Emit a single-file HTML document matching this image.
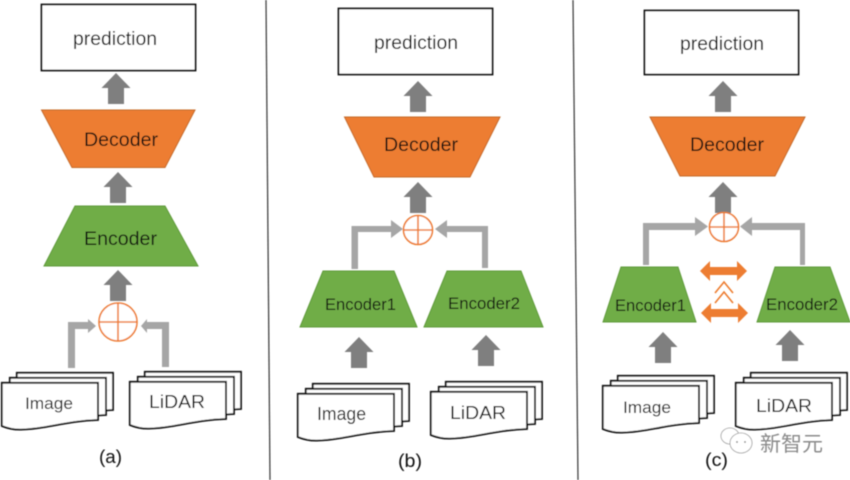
<!DOCTYPE html>
<html>
<head>
<meta charset="utf-8">
<style>
html,body{margin:0;padding:0;background:#fff;width:850px;height:480px;overflow:hidden}
svg{display:block}
text{font-family:"Liberation Sans",sans-serif;fill:#111}
</style>
</head>
<body>
<svg width="850" height="480" viewBox="0 0 850 480" xmlns="http://www.w3.org/2000/svg">
<defs>
<filter id="b" x="-5%" y="-5%" width="110%" height="110%"><feGaussianBlur stdDeviation="0.5"/></filter>
<path id="up" d="M0 0 L14.5 15 H8 V31 H-8 V15 H-14.5 Z" fill="#7f7f7f"/>
<path id="doc" d="M0.8 0.8 H97 V38 C65 39 45 47 22 47.500 C15 48 8 47 0.8 44 Z" fill="#fff" stroke="#111" stroke-width="1.8"/>
<g id="stack">
<use href="#doc" x="15" y="-10"/>
<use href="#doc" x="8" y="-5"/>
<use href="#doc"/>
</g>
</defs>
<rect width="850" height="480" fill="#fff"/>
<g filter="url(#b)">
<!-- dividers -->
<line x1="266" y1="0" x2="270" y2="480" stroke="#444" stroke-width="1.3"/>
<line x1="573" y1="0" x2="578" y2="480" stroke="#444" stroke-width="1.3"/>

<!-- Panel a -->
<rect x="41.500" y="4.500" width="154" height="66" fill="#fff" stroke="#111" stroke-width="1.8"/>
<use href="#up" x="116" y="73"/>
<path d="M41.500 110 H195 L165 167.500 H72 Z" fill="#ed7d31" stroke="#c56a2c"/>
<use href="#up" x="118" y="172"/>
<path d="M75 206 H165 L198 266 H44 Z" fill="#70ad47" stroke="#5f9a3a"/>
<use href="#up" x="118" y="270"/>
<circle cx="118" cy="322" r="19" fill="#fff" stroke="#ed7d31" stroke-width="1.6"/>
<path d="M99 322 H137 M118 303 V341" stroke="#ed7d31" stroke-width="1.6" fill="none"/>
<path d="M68 368 V322 H88 V319 L96 326 L88 333 V329 H75 V368 Z" fill="#a6a6a6"/>
<path d="M162 367 V329 H147 V333 L141 326 L147 319 V322 H169 V367 Z" fill="#a6a6a6"/>
<use href="#stack" x="1" y="382"/>
<use href="#stack" x="129" y="381"/>

<!-- Panel b -->
<rect x="338.500" y="8.500" width="154" height="66" fill="#fff" stroke="#111" stroke-width="1.8"/>
<use href="#up" x="418" y="81"/>
<path d="M344.500 117 H500 L470 177 H374 Z" fill="#ed7d31" stroke="#c56a2c"/>
<use href="#up" x="418" y="182"/>
<circle cx="418" cy="230" r="14.500" fill="#fff" stroke="#ed7d31" stroke-width="1.6"/>
<path d="M403.500 230 H432.500 M418 215.500 V244.500" stroke="#ed7d31" stroke-width="1.6" fill="none"/>
<path d="M351.500 269 V226 H391 V220 L403 229 L391 238 V232 H358 V269 Z" fill="#a6a6a6"/>
<path d="M482 268 V232 H447 V238 L435 229 L447 220 V226 H488 V268 Z" fill="#a6a6a6"/>
<path d="M323 271 H394 L417 327 H300 Z" fill="#70ad47" stroke="#5f9a3a"/>
<path d="M447 271 H521 L543 327 H424 Z" fill="#70ad47" stroke="#5f9a3a"/>
<use href="#up" x="359" y="337"/>
<use href="#up" x="486" y="335"/>
<use href="#stack" x="297" y="393"/>
<use href="#stack" x="430" y="391"/>

<!-- Panel c -->
<rect x="644.500" y="10.500" width="154" height="64" fill="#fff" stroke="#111" stroke-width="1.8"/>
<use href="#up" x="723" y="81"/>
<path d="M650 117 H805 L775 176 H680 Z" fill="#ed7d31" stroke="#c56a2c"/>
<use href="#up" x="723" y="182"/>
<circle cx="724" cy="227" r="14.500" fill="#fff" stroke="#ed7d31" stroke-width="1.6"/>
<path d="M709.500 227 H738.500 M724 212.500 V241.500" stroke="#ed7d31" stroke-width="1.6" fill="none"/>
<path d="M643 265 V223 H695 V217 L708 226.500 L695 236 V230 H649 V265 Z" fill="#a6a6a6"/>
<path d="M800 265 V230 H752 V236 L740 226.500 L752 217 V223 H805 V265 Z" fill="#a6a6a6"/>
<path d="M621 267 H678 L696 322 H603 Z" fill="#70ad47" stroke="#5f9a3a"/>
<path d="M775 267 H830 L850 322 H757 Z" fill="#70ad47" stroke="#5f9a3a"/>
<path d="M700 271 L710 261 V267 H737 V261 L747 271 L737 281 V275 H710 V281 Z" fill="#ed7d31"/>
<path d="M701 313 L711 303 V309 H738 V303 L748 313 L738 323 V317 H711 V323 Z" fill="#ed7d31"/>
<path d="M715 293 L724 282 L733 293 M715 303 L724 292 L733 303" fill="none" stroke="#ed7d31" stroke-width="1.6"/>
<use href="#up" x="663" y="332"/>
<use href="#up" x="790" y="330"/>
<use href="#stack" x="602" y="385"/>
<use href="#stack" x="735" y="382"/>

<!-- Labels -->
<text x="73" y="45" font-size="19" textLength="84" lengthAdjust="spacingAndGlyphs">prediction</text>
<text x="84" y="146" font-size="19" textLength="74" lengthAdjust="spacingAndGlyphs">Decoder</text>
<text x="84" y="245" font-size="19" textLength="73" lengthAdjust="spacingAndGlyphs">Encoder</text>
<text x="25" y="409" font-size="17" textLength="48" lengthAdjust="spacingAndGlyphs">Image</text>
<text x="149" y="408" font-size="18" textLength="56" lengthAdjust="spacingAndGlyphs">LiDAR</text>
<text x="99" y="463" font-size="18" textLength="23" lengthAdjust="spacingAndGlyphs">(a)</text>

<text x="374" y="49" font-size="19" textLength="84" lengthAdjust="spacingAndGlyphs">prediction</text>
<text x="384" y="151" font-size="19" textLength="74" lengthAdjust="spacingAndGlyphs">Decoder</text>
<text x="325" y="310" font-size="17" textLength="71" lengthAdjust="spacingAndGlyphs">Encoder1</text>
<text x="448" y="309" font-size="17" textLength="72" lengthAdjust="spacingAndGlyphs">Encoder2</text>
<text x="317" y="420" font-size="18" textLength="49" lengthAdjust="spacingAndGlyphs">Image</text>
<text x="450" y="419" font-size="18" textLength="56" lengthAdjust="spacingAndGlyphs">LiDAR</text>
<text x="398" y="467" font-size="18" textLength="24" lengthAdjust="spacingAndGlyphs">(b)</text>

<text x="680" y="50" font-size="19" textLength="84" lengthAdjust="spacingAndGlyphs">prediction</text>
<text x="690" y="151" font-size="19" textLength="74" lengthAdjust="spacingAndGlyphs">Decoder</text>
<text x="615" y="311" font-size="17" textLength="71" lengthAdjust="spacingAndGlyphs">Encoder1</text>
<text x="766" y="310" font-size="17" textLength="72" lengthAdjust="spacingAndGlyphs">Encoder2</text>
<text x="623" y="413" font-size="17" textLength="48" lengthAdjust="spacingAndGlyphs">Image</text>
<text x="756" y="412" font-size="18" textLength="56" lengthAdjust="spacingAndGlyphs">LiDAR</text>
<text x="705" y="466" font-size="18" textLength="23" lengthAdjust="spacingAndGlyphs">(c)</text>

<!-- Watermark -->
<g fill="#fff" stroke="#9a9a9a" stroke-width="0.8">
<ellipse cx="730" cy="436" rx="9" ry="8"/>
<ellipse cx="741" cy="443" rx="11" ry="10"/>
</g>
<circle cx="737" cy="442" r="0.9" fill="#777"/>
<circle cx="745" cy="442" r="0.9" fill="#777"/>
<text x="760" y="451" font-size="21" style="font-family:'Liberation Sans','Noto Sans CJK SC',sans-serif;fill:#8a8a8a">新智元</text>
</g>
</svg>
</body>
</html>
